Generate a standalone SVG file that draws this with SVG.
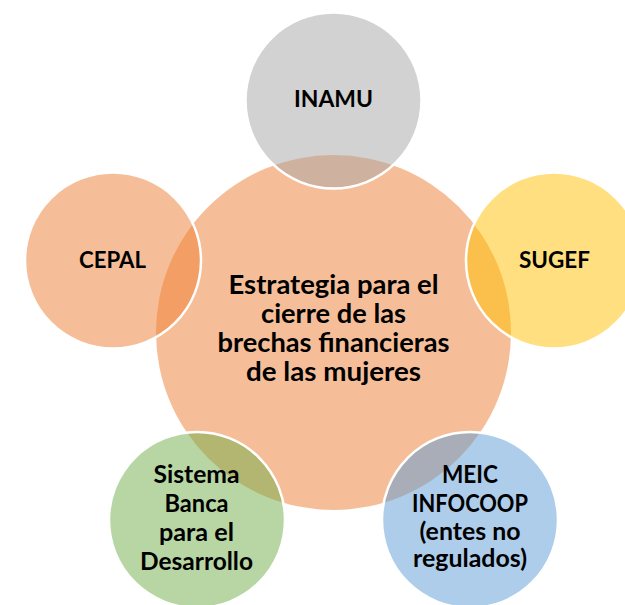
<svg xmlns="http://www.w3.org/2000/svg" width="625" height="605" viewBox="0 0 625 605">
  <style>
    .hub { fill: #ED7D31; fill-opacity: 0.5; }
    .sat { fill-opacity: 0.5; stroke: #FFFFFF; stroke-width: 2.5; }
    .lbl { font-family: Lato, "Open Sans", "Liberation Sans", sans-serif; font-weight: bold; fill: #000000; text-anchor: middle; }
    .big { font-size: 26.5px; }
    .small { font-size: 24.5px; }
    .caps { font-size: 23.5px; }
  </style>
  <rect width="625" height="605" fill="#FFFFFF"/>
  <g id="center">
    <circle class="hub" cx="333.5" cy="332.5" r="177.5"/>
  </g>
  <g id="inamu">
    <circle class="sat" cx="333.5" cy="100.5" r="88" fill="#A5A5A5"/>
  </g>
  <g id="sugef">
    <circle class="sat" cx="554" cy="260.5" r="88" fill="#FFC000"/>
  </g>
  <g id="cepal">
    <circle class="sat" cx="113" cy="260.5" r="88" fill="#ED7D31"/>
  </g>
  <g id="sistema">
    <circle class="sat" cx="197" cy="520" r="88" fill="#70AD47"/>
  </g>
  <g id="meic">
    <circle class="sat" cx="470" cy="520" r="88" fill="#5B9BD5"/>
  </g>
  <g id="labels">
    <text class="lbl big" x="333.5" y="294" textLength="210" lengthAdjust="spacingAndGlyphs">Estrategia para el</text>
    <text class="lbl big" x="333.5" y="323" textLength="145" lengthAdjust="spacingAndGlyphs">cierre de las</text>
    <text class="lbl big" x="333.5" y="352" textLength="232" lengthAdjust="spacingAndGlyphs">brechas financieras</text>
    <text class="lbl big" x="333.5" y="381" textLength="175" lengthAdjust="spacingAndGlyphs">de las mujeres</text>
    <text class="lbl caps" x="333.5" y="107" textLength="79" lengthAdjust="spacingAndGlyphs">INAMU</text>
    <text class="lbl caps" x="554.5" y="268" textLength="71" lengthAdjust="spacingAndGlyphs">SUGEF</text>
    <text class="lbl caps" x="112.5" y="268" textLength="67" lengthAdjust="spacingAndGlyphs">CEPAL</text>
    <text class="lbl small" x="196.5" y="483" textLength="86" lengthAdjust="spacingAndGlyphs">Sistema</text>
    <text class="lbl small" x="196.5" y="512" textLength="64" lengthAdjust="spacingAndGlyphs">Banca</text>
    <text class="lbl small" x="196.5" y="541" textLength="75" lengthAdjust="spacingAndGlyphs">para el</text>
    <text class="lbl small" x="196.5" y="570" textLength="113" lengthAdjust="spacingAndGlyphs">Desarrollo</text>
    <text class="lbl small" x="470" y="483" textLength="56" lengthAdjust="spacingAndGlyphs">MEIC</text>
    <text class="lbl small" x="470" y="512" textLength="116" lengthAdjust="spacingAndGlyphs">INFOCOOP</text>
    <text class="lbl small" x="470" y="540" textLength="101" lengthAdjust="spacingAndGlyphs">(entes no</text>
    <text class="lbl small" x="470" y="567" textLength="114" lengthAdjust="spacingAndGlyphs">regulados)</text>
  </g>
  <g id="connectors"></g>
</svg>
